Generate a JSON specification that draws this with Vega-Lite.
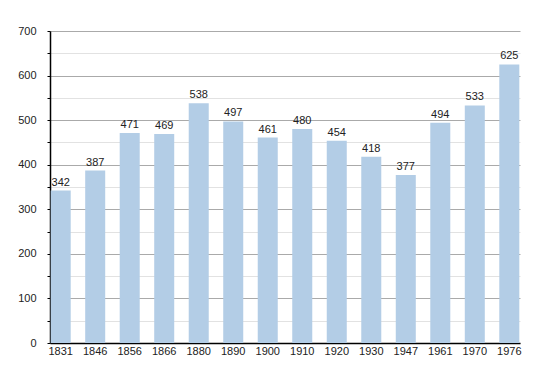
{
  "$schema": "https://vega.github.io/schema/vega-lite/v6.json",
  "width": 470,
  "height": 312,
  "autosize": {"type": "none"},
  "padding": {"left": 50, "top": 31, "right": 30, "bottom": 30},
  "background": "white",
  "config": {
    "view": {"stroke": null},
    "font": "Liberation Sans",
    "axis": {"labelFont": "Liberation Sans", "labelFontSize": 11, "labelColor": "#222"}
  },
  "data": {
    "values": [
      {"year": "1831", "pop": 342},
      {"year": "1846", "pop": 387},
      {"year": "1856", "pop": 471},
      {"year": "1866", "pop": 469},
      {"year": "1880", "pop": 538},
      {"year": "1890", "pop": 497},
      {"year": "1900", "pop": 461},
      {"year": "1910", "pop": 480},
      {"year": "1920", "pop": 454},
      {"year": "1930", "pop": 418},
      {"year": "1947", "pop": 377},
      {"year": "1961", "pop": 494},
      {"year": "1970", "pop": 533},
      {"year": "1976", "pop": 625}
    ]
  },
  "encoding": {
    "x": {
      "field": "year",
      "type": "ordinal",
      "sort": null,
      "scale": {"paddingInner": 0.42, "paddingOuter": 0.02},
      "axis": {
        "title": null,
        "labelAngle": 0,
        "ticks": false,
        "labelPadding": 2,
        "domainColor": "#000",
        "domainWidth": 1.5,
        "grid": false
      }
    },
    "y": {
      "field": "pop",
      "type": "quantitative",
      "scale": {"domain": [0, 700], "nice": false},
      "axis": {
        "title": null,
        "values": [0, 50, 100, 150, 200, 250, 300, 350, 400, 450, 500, 550, 600, 650, 700],
        "labelExpr": "datum.value % 100 === 0 ? datum.label : ''",
        "tickSize": 3,
        "tickColor": "#000",
        "labelPadding": 11,
        "domainColor": "#000",
        "domainWidth": 1.5,
        "grid": true,
        "gridColor": {"condition": {"test": "datum.value % 100 === 0", "value": "#aaaaaa"}, "value": "#e2e2e2"},
        "gridWidth": 1
      }
    }
  },
  "layer": [
    {
      "mark": {"type": "bar", "color": "#b3cde6"}
    },
    {
      "mark": {"type": "text", "baseline": "bottom", "dy": -3, "fontSize": 11, "color": "#222", "font": "Liberation Sans"},
      "encoding": {"text": {"field": "pop", "type": "quantitative"}}
    }
  ]
}
